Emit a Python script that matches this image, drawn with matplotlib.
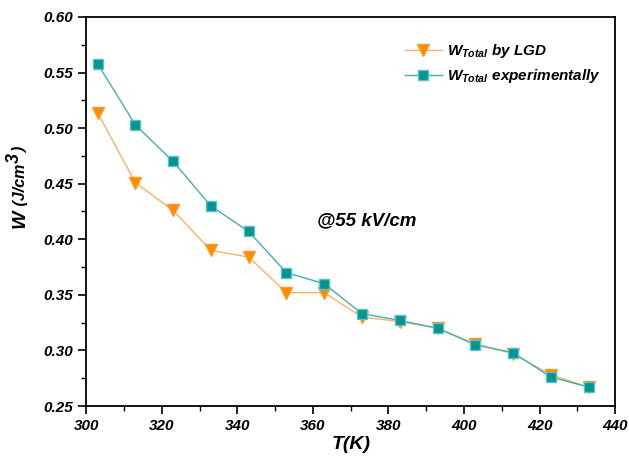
import matplotlib
matplotlib.use("Agg")
import matplotlib.pyplot as plt
from matplotlib.ticker import MultipleLocator

plt.rcParams['font.family'] = ['Liberation Sans', 'DejaVu Sans']
plt.rcParams['mathtext.fontset'] = 'custom'
plt.rcParams['mathtext.it'] = 'Liberation Sans:italic:bold'
plt.rcParams['mathtext.rm'] = 'Liberation Sans:italic:bold'
plt.rcParams['mathtext.bf'] = 'Liberation Sans:italic:bold'

temps = [303, 313, 323, 333, 343, 353, 363, 373, 383, 393, 403, 413, 423, 433]
w_lgd = [0.514, 0.451, 0.426, 0.390, 0.384, 0.352, 0.352, 0.330, 0.326, 0.320, 0.306, 0.297, 0.278, 0.267]
w_exp = [0.558, 0.503, 0.470, 0.430, 0.407, 0.370, 0.360, 0.333, 0.327, 0.320, 0.305, 0.298, 0.276, 0.267]
xticks = [300, 320, 340, 360, 380, 400, 420, 440]
yticks = [0.25, 0.30, 0.35, 0.40, 0.45, 0.50, 0.55, 0.60]

W, H = 629, 458
fig = plt.figure(figsize=(W / 100, H / 100), dpi=100)
ax = fig.add_axes([0.137, 0.1135, 0.841, 0.8495])

ax.plot(temps, w_lgd, color='#FFB060', lw=1.0, marker='v', ms=9,
        mfc='#FF8C00', mec='#FF9A20', label=r'$W_{Total}$ by LGD')
ax.plot(temps, w_exp, color='#40B0B0', lw=1.0, marker='s', ms=7.5,
        mfc='#009595', mec='#60C0C0', label=r'$W_{Total}$ experimentally')

ax.set_xlim(300, 440)
ax.set_ylim(0.25, 0.60)
ax.set_xticks(xticks)
ax.set_yticks(yticks)
ax.xaxis.set_minor_locator(MultipleLocator(10))
ax.yaxis.set_minor_locator(MultipleLocator(0.025))
ax.set_xticklabels([str(v) for v in xticks])
ax.set_yticklabels([f'{v:.2f}' for v in yticks])
for lab in ax.get_xticklabels() + ax.get_yticklabels():
    lab.set_fontweight('bold')
    lab.set_fontstyle('italic')
    lab.set_fontsize(11)
ax.tick_params(which='major', direction='out', length=6, width=1.2, top=False, right=False)
ax.tick_params(which='minor', direction='out', length=3.5, width=1.0, top=False, right=False)
for s in ax.spines.values():
    s.set_linewidth(1.3)

ax.set_xlabel('T(K)', fontsize=14, fontweight='bold', fontstyle='italic', labelpad=2)

# y label built from pieces of different sizes, running upward
renderer = fig.canvas.get_renderer()
pieces = [('W', 14, 0), (' (J/cm', 11.5, 0), ('3', 13, -6), (')', 11.5, 0)]
base_x = 25
cur_y = H - 228
for txt, size, dx in pieces:
    t = fig.text((base_x + dx) / W, cur_y / H, txt, fontsize=size, fontweight='bold',
                 fontstyle='italic', rotation=90, rotation_mode='anchor',
                 ha='left', va='baseline')
    ext = t.get_window_extent(renderer)
    cur_y += ext.height

ax.text(374.3, 0.417, '@55 kV/cm', fontsize=13.5, fontweight='bold', fontstyle='italic',
        ha='center', va='center')

leg = ax.legend(loc='upper left', bbox_to_anchor=(0.603, 0.935), frameon=False,
                prop={'weight': 'bold', 'style': 'italic', 'size': 11},
                handlelength=2.4, handletextpad=0.35, labelspacing=0.45, borderpad=0,
                borderaxespad=0)

fig.savefig('out.png', dpi=100)
